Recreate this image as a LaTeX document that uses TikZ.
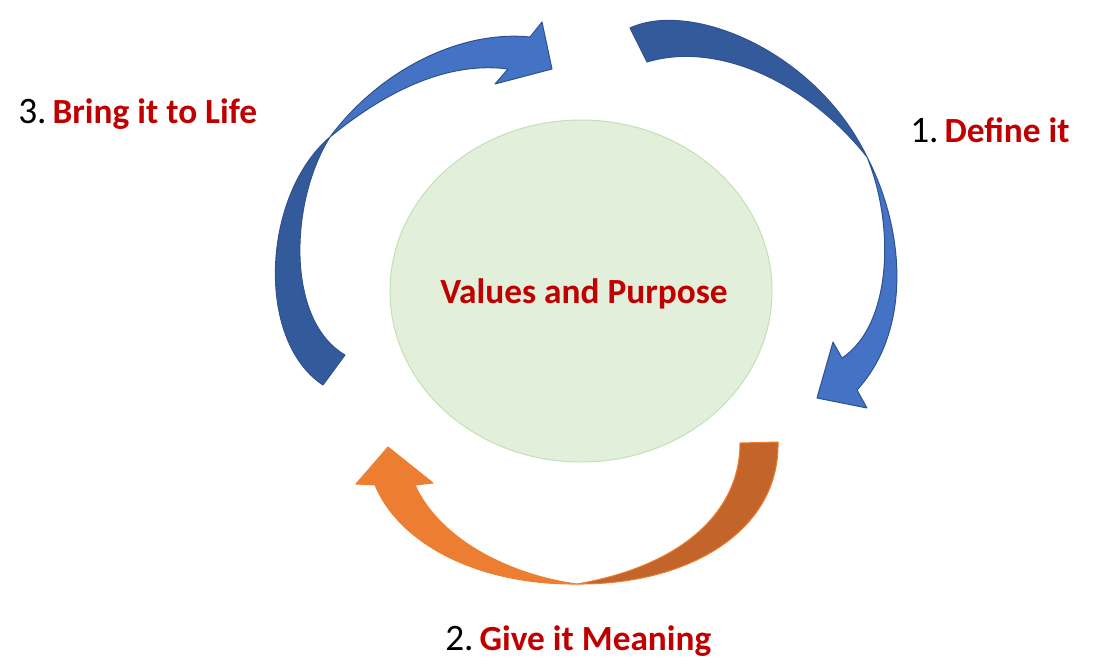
\documentclass[tikz,border=0pt]{standalone}
\usepackage{fontspec}
\setmainfont{Carlito}
\usepackage{xcolor}
\usepackage{tikz}
\usetikzlibrary{shapes.geometric}

\definecolor{lblue}{HTML}{4472C4}
\definecolor{dblue}{HTML}{335A9B}
\definecolor{eblue}{HTML}{2F528F}
\definecolor{lorange}{HTML}{ED7D31}
\definecolor{dorange}{HTML}{C3642A}
\definecolor{lgreen}{HTML}{E2EFDA}
\definecolor{egreen}{HTML}{C5E0B4}
\definecolor{dred}{HTML}{C00000}

\tikzset{
  frontblue/.style={fill=lblue, draw=eblue, line width=0.75pt, line join=round},
  backblue/.style={fill=dblue, draw=eblue, line width=0.75pt, line join=round},
  frontorange/.style={fill=lorange, draw=lorange, line width=0.75pt, line join=round},
  backorange/.style={fill=dorange, draw=lorange, line width=0.75pt, line join=round},
  steplabel/.style={anchor=base west, inner sep=0pt, font=\fontsize{26.5}{30}\selectfont},
}
\newcommand{\steptext}[2]{{\fontsize{28}{30}\selectfont #1.}\hspace{4.5pt}\textcolor{dred}{\bfseries #2}}

\begin{document}
\begin{tikzpicture}[x=0.75pt, y=-0.75pt]
        \useasboundingbox (0,0) rectangle (1093,665);

        % Centre ellipse
        \node[ellipse, fill=lgreen, draw=egreen, line width=0.75pt,
              minimum width=382*0.75pt, minimum height=342*0.75pt, inner sep=0pt] (core) at (581,291) {};
        \node[anchor=base, inner sep=0pt, text=dred,
              font=\fontsize{26.5}{30}\selectfont\bfseries] (corelabel) at (584,303) {Values and Purpose};

        % Right arrow (1. Define it): back ribbon, then front with head
        \draw[backblue] (630,28) .. controls (690,0) and (815,50) .. (867,157)
                     .. controls (810,85) and (720,40) .. (647,62) -- cycle;
        \draw[frontblue] (867,157) .. controls (905,230) and (912,330) .. (857,390)
                     -- (867,408) -- (817,398) -- (833,342) -- (842,358)
                     .. controls (892,325) and (895,225) .. (867,157) -- cycle;

        % Bottom arrow (2. Give it Meaning)
        \draw[backorange] (778,442) .. controls (780,530) and (690,585) .. (577,584)
                     .. controls (685,565) and (740,510) .. (740,443) -- cycle;
        \draw[frontorange] (577,584) .. controls (480,585) and (400,545) .. (375,485)
                     -- (356,484) -- (388,447) -- (433,483) -- (415,485)
                     .. controls (440,540) and (510,575) .. (577,584) -- cycle;

        % Left arrow (3. Bring it to Life)
        \draw[backblue] (323,385) .. controls (255,340) and (262,195) .. (330,137)
                     .. controls (290,200) and (285,320) .. (345,355) -- cycle;
        \draw[frontblue] (330,137) .. controls (380,70) and (460,30) .. (530,37)
                     -- (542,22) -- (552,69) -- (495,84) -- (508,69)
                     .. controls (440,60) and (375,100) .. (330,137) -- cycle;

        % Step labels
        \node[steplabel] (define) at (910,142) {\steptext{1}{Define it}};
        \node[steplabel] (meaning) at (445,650) {\steptext{2}{Give it Meaning}};
        \node[steplabel] (life) at (18,123) {\steptext{3}{Bring it to Life}};
\end{tikzpicture}
\end{document}
